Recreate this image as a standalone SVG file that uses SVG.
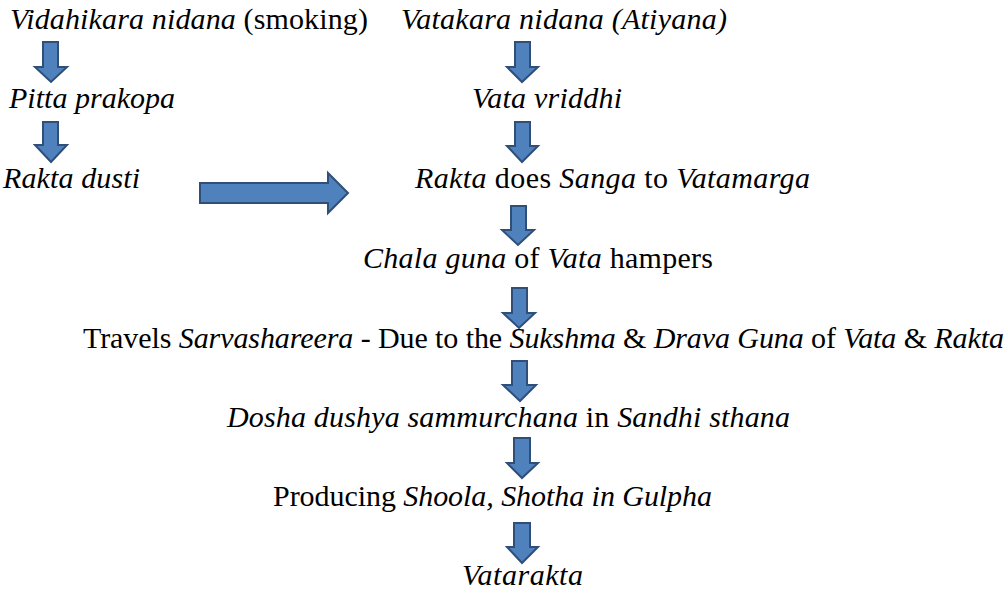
<svg xmlns="http://www.w3.org/2000/svg" width="1006" height="592" viewBox="0 0 1006 592">
<style>
  text { font-family: "Liberation Serif", "DejaVu Serif", serif; font-size: 30px; fill: #000; }
  .i { font-style: italic; }
  .arrow { fill: #4F81BD; stroke: #2F4F78; stroke-width: 2; stroke-linejoin: miter; }
</style>
<rect width="1006" height="592" fill="#fff"/>
<g id="connectors">
  <path class="arrow" d="M43,42 H58 V67 H67 L51,82 L35,67 H43 Z"/>
  <path class="arrow" d="M43,122 H58 V145 H67 L51,162 L35,145 H43 Z"/>
  <path class="arrow" d="M200,183 H328 V173 L348,193 L328,213 V203 H200 Z"/>
  <path class="arrow" d="M515,42 H530 V67 H538 L522,82 L507,67 H515 Z"/>
  <path class="arrow" d="M515,122 H530 V146 H538 L522,162 L507,146 H515 Z"/>
  <path class="arrow" d="M511,206 H526 V230 H534 L518,245 L502,230 H511 Z"/>
  <path class="arrow" d="M512,288 H527 V313 H535 L519,328 L503,313 H512 Z"/>
  <path class="arrow" d="M512,361 H527 V385 H536 L520,401 L503,385 H512 Z"/>
  <path class="arrow" d="M514,438 H530 V463 H538 L522,478 L507,463 H514 Z"/>
  <path class="arrow" d="M514,523 H530 V547 H538 L522,563 L507,547 H514 Z"/>
</g>
<g id="vidahikara"><text x="10" y="29" textLength="358" lengthAdjust="spacing"><tspan class="i">Vidahikara nidana</tspan> (smoking)</text></g>
<g id="vatakara"><text x="401" y="29" textLength="326" lengthAdjust="spacing" class="i">Vatakara nidana (Atiyana)</text></g>
<g id="pitta"><text x="9" y="108" textLength="166" lengthAdjust="spacing" class="i">Pitta prakopa</text></g>
<g id="vata-vriddhi"><text x="472" y="108" textLength="150" lengthAdjust="spacing" class="i">Vata vriddhi</text></g>
<g id="rakta-dusti"><text x="3" y="188" textLength="137" lengthAdjust="spacing" class="i">Rakta dusti</text></g>
<g id="rakta-sanga"><text x="415" y="188" textLength="395" lengthAdjust="spacing"><tspan class="i">Rakta</tspan> does <tspan class="i">Sanga</tspan> to <tspan class="i">Vatamarga</tspan></text></g>
<g id="chala-guna"><text x="363" y="268" textLength="350" lengthAdjust="spacing"><tspan class="i">Chala guna</tspan> of <tspan class="i">Vata</tspan> hampers</text></g>
<g id="travels"><text x="83" y="348" textLength="921" lengthAdjust="spacing">Travels <tspan class="i">Sarvashareera</tspan> - Due to the <tspan class="i">Sukshma</tspan> &amp; <tspan class="i">Drava Guna</tspan> of <tspan class="i">Vata</tspan> &amp; <tspan class="i">Rakta</tspan></text></g>
<g id="dosha"><text x="227" y="427" textLength="563" lengthAdjust="spacing"><tspan class="i">Dosha dushya sammurchana</tspan> in <tspan class="i">Sandhi sthana</tspan></text></g>
<g id="producing"><text x="273" y="506" textLength="439" lengthAdjust="spacing">Producing <tspan class="i">Shoola, Shotha in Gulpha</tspan></text></g>
<g id="vatarakta"><text x="462" y="585" textLength="121" lengthAdjust="spacing" class="i">Vatarakta</text></g>
</svg>
